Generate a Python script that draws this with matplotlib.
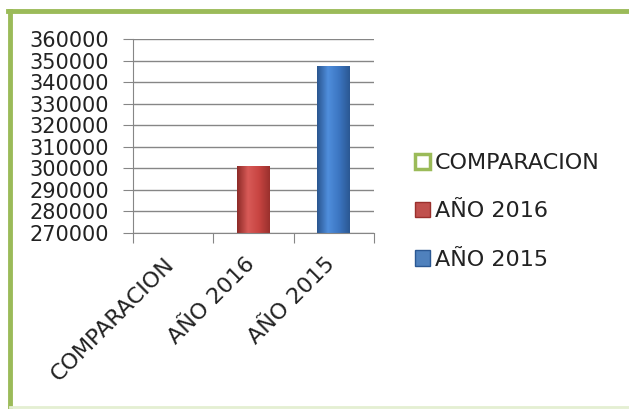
import numpy as np
import matplotlib.pyplot as plt
from matplotlib.patches import Patch
from matplotlib.lines import Line2D
from matplotlib.colors import LinearSegmentedColormap
from matplotlib.transforms import ScaledTranslation

# data
categorias = ['COMPARACION', 'AÑO 2016', 'AÑO 2015']
valores = [0, 301000, 347700]
colores = ['#9BBB59', '#C0504D', '#4F81BD']
# dark edge / light centre for the bevel look
grad = {
    'AÑO 2016': ['#8E2B28', '#D85A57', '#C84542', '#9A302D'],
    'AÑO 2015': ['#2A5690', '#4F8EDC', '#3C76C2', '#2B5893'],
}
yticks = np.arange(270000, 360001, 10000)

plt.rcParams['font.family'] = ['DejaVu Sans']
fs = 15
fs_cat = 16

fig = plt.figure(figsize=(6.29, 4.09), dpi=100)
ax = fig.add_axes([0.2114, 0.4303, 0.3832, 0.4743])

x = np.arange(len(categorias))
bars = ax.bar(x, valores, width=0.41, color=colores, zorder=3)

# gradient fill clipped to each bar
for b, cat in zip(bars, categorias):
    if cat not in grad:
        continue
    b.set_facecolor('none')
    cmap = LinearSegmentedColormap.from_list(cat, grad[cat])
    g = np.linspace(0, 1, 64).reshape(1, -1)
    x0, w = b.get_x(), b.get_width()
    im = ax.imshow(g, cmap=cmap, aspect='auto', zorder=2,
                   extent=[x0, x0 + w, 270000, b.get_height()])
    im.set_clip_path(b)

ax.set_xlim(-0.5, 2.5)
ax.set_ylim(270000, 360000)
ax.set_yticks(yticks)
ax.set_yticklabels([str(v) for v in yticks], fontsize=fs, color='#222222')
ax.yaxis.grid(True, color='#868686', linewidth=1)
ax.set_axisbelow(True)

# category boundaries as ticks
ax.set_xticks([-0.5, 0.5, 1.5, 2.5])
ax.set_xticklabels([])
ax.set_xticks(x, minor=True)
ax.set_xticklabels(categorias, minor=True, rotation=45, ha='right',
                   va='top', rotation_mode='anchor', fontsize=fs_cat, color='#222222')
ax.tick_params(axis='x', which='minor', length=0, pad=8)
ax.tick_params(axis='x', which='major', length=7, color='#868686', direction='out')
ax.tick_params(axis='y', length=7, color='#868686', pad=10)
off = ScaledTranslation(-0.09, -0.1, fig.dpi_scale_trans)
for lab in ax.get_xticklabels(minor=True):
    lab.set_transform(lab.get_transform() + off)

for s in ['top', 'right']:
    ax.spines[s].set_visible(False)
for s in ['left', 'bottom']:
    ax.spines[s].set_color('#868686')

handles = [
    Patch(facecolor='white', edgecolor='#9BBB59', linewidth=2.5),
    Patch(facecolor='#C0504D', edgecolor='#9A302D'),
    Patch(facecolor='#4F81BD', edgecolor='#2B5893'),
]
leg = fig.legend(handles, categorias, loc='center left', bbox_to_anchor=(0.66, 0.483),
                 frameon=False, fontsize=fs_cat, handlelength=0.68, handleheight=0.68,
                 handletextpad=0.2, labelspacing=1.27, borderpad=0, borderaxespad=0)
for t in leg.get_texts():
    t.set_color('#222222')

# green frame
fig.add_artist(Line2D([0.016, 0.016], [0.003, 0.972], transform=fig.transFigure,
                      color='#9BBB59', linewidth=3.5))
fig.add_artist(Line2D([0.0135, 1.0], [0.972, 0.972], transform=fig.transFigure,
                      color='#9BBB59', linewidth=3.5))
fig.add_artist(Line2D([0.016, 1.0], [0.004, 0.004], transform=fig.transFigure,
                      color='#E4EFD2', linewidth=2))

fig.savefig('out.png', dpi=100)
